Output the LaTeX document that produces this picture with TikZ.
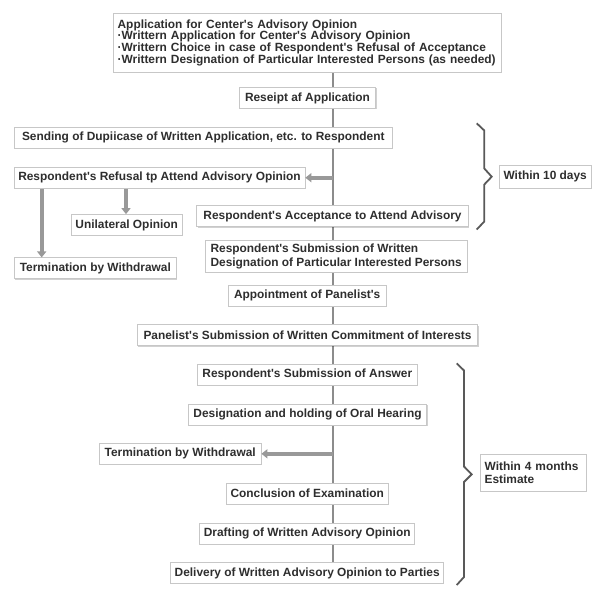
\documentclass[tikz,border=0pt]{standalone}
\usepackage{fontspec}
\setmainfont{Liberation Sans}[Ligatures=TeXOff]
\usetikzlibrary{arrows.meta,shadows,backgrounds}
\tikzset{>={Triangle[width=9pt,length=6pt]}}
\definecolor{inkgray}{HTML}{2E2E2E}
\newcommand\boxfont{\fontsize{11.9}{14}\selectfont\bfseries}

\begin{document}
\begin{tikzpicture}[x=1pt,y=-1pt,
	stage/.style={draw=black!22, fill=white, line width=0.7pt, text=inkgray, font=\boxfont,
		inner xsep=4pt, inner ysep=3pt, minimum height=21pt,
		drop shadow={shadow xshift=0.8pt, shadow yshift=-0.8pt, opacity=0.18, fill=black}},
	trunk/.style={draw=black!45, line width=2pt},
	branch/.style={draw=black!40, line width=4pt, ->},
	brace/.style={draw=black!65, line width=1.8pt, line join=miter}]
		\useasboundingbox (0,0) rectangle (600,600);
		% steps of the procedure
		\node[stage, align=left, anchor=north west, text width=379.7, minimum height=58.2,
			font=\fontsize{11.9}{11.8}\selectfont\bfseries] (app) at (113.3,13.3)
			{Application for Center's Advisory Opinion\\
			·Writtern Application for Center's Advisory Opinion\\
			·Writtern Choice in case of Respondent's Refusal of Acceptance\\
			·Writtern Designation of Particular Interested Persons (as needed)};
		\node[stage, minimum width=136.4] (rcpt) at (307.5,98) {Reseipt af Application};
		\node[stage, minimum width=378.7] (send) at (203.3,137.8) {Sending of Dupiicase of Written Application, etc. to Respondent};
		\node[stage, minimum width=291] (refuse) at (159.5,177.7) {Respondent's Refusal tp Attend Advisory Opinion};
		\node[stage, minimum width=110] (unil) at (126.7,225) {Unilateral Opinion};
		\node[stage, minimum width=162.7] (term1) at (95.3,268.3) {Termination by Withdrawal};
		\node[stage, minimum width=271.6] (accept) at (332.5,216.2) {Respondent's Acceptance to Attend Advisory};
		\node[stage, align=left, minimum width=262.3, minimum height=31.6] (subm) at (336.2,256.5)
			{Respondent's Submission of Written\\ Designation of Particular Interested Persons};
		\node[stage, minimum width=157.7] (appt) at (307.2,295.5) {Appointment of Panelist's};
		\node[stage, minimum width=340.4] (commit) at (307.5,335.3) {Panelist's Submission of Written Commitment of Interests};
		\node[stage, minimum width=220] (answer) at (307.3,374.8) {Respondent's Submission of Answer};
		\node[stage, minimum width=238.4] (hearing) at (307.5,414.7) {Designation and holding of Oral Hearing};
		\node[stage, minimum width=161.7] (term2) at (180.2,453.8) {Termination by Withdrawal};
		\node[stage, minimum width=162.3] (concl) at (307.2,493.7) {Conclusion of Examination};
		\node[stage, minimum width=214.3] (draft) at (307.2,533.7) {Drafting of Written Advisory Opinion};
		\node[stage, minimum width=272.3] (deliv) at (307.2,573) {Delivery of Written Advisory Opinion to Parties};
		% time limits
		\node[stage, inner xsep=3pt, minimum width=91.7, minimum height=23.3] (days) at (545.2,176.7) {Within 10 days};
		\node[stage, align=left, text width=97.3, minimum height=36.7,
			font=\fontsize{11.9}{12.3}\selectfont\bfseries] (months) at (533.3,472.7) {Within 4 months\\ Estimate};
		\draw[brace] (476.7,123.3) -- (484.3,130.5) -- (484.3,168.5) -- (491.7,176.7) -- (484.3,184.5) -- (484.3,221.5) -- (476.7,229.5);
		\draw[brace] (456.7,363.3) -- (464,370.5) -- (464,466.5) -- (471.7,474.3) -- (464,482) -- (464,577) -- (456.7,585);
		% connectors
		\coordinate (axis) at (333.3,0);
		\coordinate (dropL) at (41.7,0);
		\coordinate (dropR) at (126,0);
		\begin{scope}[on background layer]
			\draw[trunk] (app.south -| axis) -- (deliv.north -| axis);
		\end{scope}
		\draw[branch] (refuse.east -| axis) -- (refuse.east);
		\draw[branch] (refuse.south -| dropL) -- (term1.north -| dropL);
		\draw[branch] (refuse.south -| dropR) -- (unil.north -| dropR);
		\draw[branch] (term2.east -| axis) -- (term2.east);
	\end{tikzpicture}
\end{document}
